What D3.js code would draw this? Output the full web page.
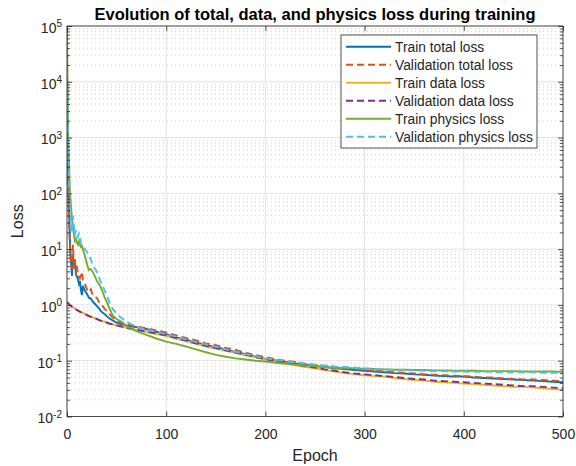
<!DOCTYPE html>
<html>
<head>
<meta charset="utf-8">
<title>Evolution of total, data, and physics loss during training</title>
<script src="https://cdn.jsdelivr.net/npm/d3@7"></script>
<style>
body { margin: 0; background: #fff; }
text { font-family: "Liberation Sans", Arial, sans-serif; fill: #262626; }
</style>
</head>
<body>
<script>
var width = 576, height = 466;
var plotL = 67, plotR = 563, plotT = 26, plotB = 416.5;

var epochs = [0,1,2,3,4,5,6,7,8,9,10,11,12,13,14,15,16,18,20,22,24,26,28,30,32,34,36,38,40,43,46,50,55,60,65,70,80,90,
  100,110,120,130,140,150,160,170,180,190,200,210,220,230,240,250,260,270,280,290,300,310,320,330,340,350,360,370,380,390,400,410,420,430,440,450,460,470,480,490,500];

var trainTotal = [10000,400,60,13,6,3.3,8,4.5,6,3.5,3.2,2.9,2.4,2.7,1.9,1.5,2.2,
  1.8,1.6,1.35,1.3,1.15,1.05,0.96,0.88,0.78,0.72,0.68,0.63,
  0.57,0.53,0.48,0.45,0.43,0.41,0.40,0.37,0.33,
  0.30,0.262,0.238,0.212,0.192,0.174,0.16,0.143,0.131,0.118,0.108,0.101,0.095,0.089,0.085,0.08,0.077,0.073,0.071,0.068,0.066,0.064,0.062,0.06,0.059,0.057,0.056,0.054,0.053,0.052,0.052,0.05,0.049,0.048,0.047,0.046,0.045,0.044,0.043,0.042,0.041];

var valTotal = [2900,150,40,9,5,4.4,12,4.4,7,3.5,5,3.6,3.2,3.0,3.4,3.9,2.8,
  2.4,1.9,1.7,1.9,1.5,1.4,1.35,1.15,1.05,0.95,0.85,0.78,
  0.68,0.6,0.53,0.47,0.45,0.43,0.41,0.38,0.35,
  0.32,0.285,0.255,0.232,0.205,0.19,0.17,0.156,0.14,0.126,0.116,0.106,0.1,0.095,0.088,0.084,0.08,0.076,0.074,0.071,0.068,0.066,0.065,0.062,0.061,0.059,0.057,0.056,0.055,0.054,0.053,0.052,0.05,0.05,0.048,0.047,0.046,0.046,0.045,0.044,0.043];

var trainData = [1.15,1.1,1.05,1.0,0.97,0.94,0.91,0.88,0.86,0.84,0.82,0.8,0.78,0.76,0.75,0.73,0.72,
  0.69,0.66,0.64,0.62,0.6,0.58,0.56,0.54,0.53,0.51,0.5,0.49,
  0.47,0.45,0.43,0.41,0.39,0.37,0.36,0.33,0.3,
  0.28,0.25,0.225,0.2,0.18,0.165,0.15,0.138,0.125,0.115,0.105,0.097,0.09,0.083,0.078,0.073,0.068,0.064,0.06,0.057,0.055,0.053,0.052,0.049,0.047,0.045,0.044,0.042,0.041,0.04,0.039,0.038,0.037,0.036,0.035,0.034,0.034,0.033,0.032,0.031,0.03];

var valData = [1.1,1.07,1.03,0.99,0.96,0.93,0.9,0.88,0.85,0.83,0.81,0.79,0.77,0.76,0.74,0.73,0.71,
  0.68,0.66,0.63,0.61,0.59,0.57,0.56,0.54,0.52,0.51,0.5,0.48,
  0.46,0.45,0.43,0.41,0.39,0.37,0.36,0.33,0.31,
  0.285,0.255,0.23,0.205,0.185,0.168,0.153,0.14,0.128,0.117,0.107,0.099,0.092,0.086,0.08,0.075,0.07,0.066,0.062,0.059,0.057,0.055,0.053,0.051,0.049,0.047,0.046,0.044,0.043,0.042,0.041,0.04,0.039,0.038,0.037,0.036,0.035,0.035,0.034,0.033,0.032];

var trainPhys = [100000,1500,400,100,60,35,25,18,14,15,13,12,14,12,11,11.5,10,
  7.6,5.5,4.2,4.4,3.9,3.3,2.7,2.4,2.1,1.7,1.35,1.15,
  0.85,0.65,0.56,0.5,0.42,0.37,0.34,0.29,0.25,
  0.22,0.2,0.18,0.16,0.142,0.127,0.118,0.11,0.105,0.1,0.097,0.092,0.088,0.085,0.082,0.079,0.077,0.075,0.074,0.073,0.072,0.071,0.07,0.069,0.069,0.068,0.068,0.067,0.067,0.066,0.066,0.066,0.065,0.065,0.065,0.065,0.064,0.064,0.064,0.064,0.063];

var valPhys = [16000,800,200,60,30,20,40,25,18,22,16,17,19,17,13,12,11,
  10,9,8,6.5,5,4.5,4,3.2,2.6,2.2,1.8,1.5,
  1.1,0.85,0.7,0.58,0.5,0.45,0.4,0.36,0.33,
  0.3,0.27,0.24,0.215,0.195,0.178,0.16,0.145,0.131,0.12,0.11,0.104,0.098,0.093,0.089,0.085,0.082,0.079,0.077,0.075,0.073,0.071,0.07,0.069,0.068,0.067,0.066,0.065,0.065,0.064,0.064,0.063,0.063,0.063,0.062,0.062,0.062,0.062,0.061,0.061,0.061];

var names = ["Train total loss","Validation total loss","Train data loss","Validation data loss","Train physics loss","Validation physics loss"];
var colors = ["#0072BD","#D95319","#EDB120","#7E2F8E","#77AC30","#4DBEEE"];
var dashed = [false,true,false,true,false,true];
var values = [trainTotal, valTotal, trainData, valData, trainPhys, valPhys];

var xTicks = [0,100,200,300,400,500];
var yDecades = [-2,-1,0,1,2,3,4,5];

var svg = d3.select("body").append("svg")
  .attr("width", width).attr("height", height);
svg.append("rect").attr("width", width).attr("height", height).attr("fill", "#fff");

var x = d3.scaleLinear().domain([0,500]).range([plotL,plotR]);
var y = d3.scaleLog().domain([1e-2,1e5]).range([plotB,plotT]);

var majorY = yDecades.map(function(e){ return Math.pow(10,e); });
var minorY = [];
yDecades.slice(0,-1).forEach(function(e){
  for (var k = 2; k < 10; k++) minorY.push(k*Math.pow(10,e));
});

// grid
var grid = svg.append("g");
grid.selectAll(".minor").data(minorY).enter().append("line")
  .attr("x1", plotL).attr("x2", plotR)
  .attr("y1", function(d){ return y(d); }).attr("y2", function(d){ return y(d); })
  .attr("stroke", "#d2d2d2").attr("stroke-width", 1).attr("stroke-dasharray", "1,3");
grid.selectAll(".majy").data(majorY).enter().append("line")
  .attr("x1", plotL).attr("x2", plotR)
  .attr("y1", function(d){ return y(d); }).attr("y2", function(d){ return y(d); })
  .attr("stroke", "#e3e3e3").attr("stroke-width", 1);
grid.selectAll(".majx").data(xTicks).enter().append("line")
  .attr("y1", plotT).attr("y2", plotB)
  .attr("x1", function(d){ return x(d); }).attr("x2", function(d){ return x(d); })
  .attr("stroke", "#e3e3e3").attr("stroke-width", 1);

// lines
svg.append("clipPath").attr("id","clip").append("rect")
  .attr("x", plotL).attr("y", plotT - 1).attr("width", plotR - plotL).attr("height", plotB - plotT + 1);

var line = d3.line()
  .x(function(d){ return x(d[0]); })
  .y(function(d){ return y(d[1]); });

var plot = svg.append("g").attr("clip-path","url(#clip)");
values.forEach(function(v, i){
  plot.append("path")
    .datum(epochs.map(function(e, j){ return [e, v[j]]; }))
    .attr("d", line)
    .attr("fill", "none")
    .attr("stroke", colors[i])
    .attr("stroke-width", 1.9)
    .attr("stroke-dasharray", dashed[i] ? "7,4" : null);
});

// axes
function styleAxis(g){
  g.select(".domain").remove();
  g.selectAll(".tick line").attr("stroke", "#262626").attr("stroke-width", 0.8);
  g.selectAll(".tick text").attr("font-size", "14px").attr("fill", "#262626");
}
svg.append("g").attr("transform","translate(0,"+plotB+")")
  .call(d3.axisBottom(x).tickValues(xTicks).tickSize(-5).tickPadding(13))
  .call(styleAxis);
svg.append("g").attr("transform","translate(0,"+plotT+")")
  .call(d3.axisTop(x).tickValues(xTicks).tickSize(-5).tickFormat(""))
  .call(styleAxis);

var gy = svg.append("g").attr("transform","translate("+plotL+",0)")
  .call(d3.axisLeft(y).tickValues(majorY).tickSize(-5).tickPadding(5))
  .call(styleAxis);
gy.selectAll(".tick text").text(null).each(function(d){
  var t = d3.select(this);
  t.attr("dy", "0.45em");
  t.append("tspan").text("10");
  t.append("tspan").attr("dy", "-0.55em").attr("font-size", "10px").text(Math.round(Math.log10(d)));
});
svg.append("g").attr("transform","translate("+plotL+",0)")
  .call(d3.axisLeft(y).tickValues(minorY).tickSize(-3).tickFormat(""))
  .call(styleAxis);
svg.append("g").attr("transform","translate("+plotR+",0)")
  .call(d3.axisRight(y).tickValues(majorY).tickSize(-5).tickFormat(""))
  .call(styleAxis);
svg.append("g").attr("transform","translate("+plotR+",0)")
  .call(d3.axisRight(y).tickValues(minorY).tickSize(-3).tickFormat(""))
  .call(styleAxis);

svg.append("rect")
  .attr("x", plotL).attr("y", plotT).attr("width", plotR - plotL).attr("height", plotB - plotT)
  .attr("fill", "none").attr("stroke", "#262626").attr("stroke-width", 0.8);

// labels
svg.append("text").attr("x", (plotL + plotR)/2).attr("y", 20)
  .attr("text-anchor","middle").attr("font-size","16.5px").attr("font-weight","bold")
  .style("fill","#000")
  .text("Evolution of total, data, and physics loss during training");
svg.append("text").attr("x", (plotL + plotR)/2).attr("y", 461)
  .attr("text-anchor","middle").attr("font-size","16px")
  .text("Epoch");
svg.append("text")
  .attr("transform","translate(23,"+((plotT + plotB)/2)+") rotate(-90)")
  .attr("text-anchor","middle").attr("font-size","16px")
  .text("Loss");

// legend
var legend = svg.append("g").attr("transform","translate(341,35)");
legend.append("rect").attr("width", 196).attr("height", 113)
  .attr("fill","#fff").attr("stroke","#262626").attr("stroke-width",0.8);
names.forEach(function(n, i){
  var yy = 11.7 + i*18;
  legend.append("line").attr("x1", 5).attr("x2", 50).attr("y1", yy).attr("y2", yy)
    .attr("stroke", colors[i]).attr("stroke-width", 1.9)
    .attr("stroke-dasharray", dashed[i] ? "7,4" : null);
  legend.append("text").attr("x", 54).attr("y", yy).attr("dy","0.35em")
    .attr("font-size","13.8px").text(n);
});
</script>
</body>
</html>
